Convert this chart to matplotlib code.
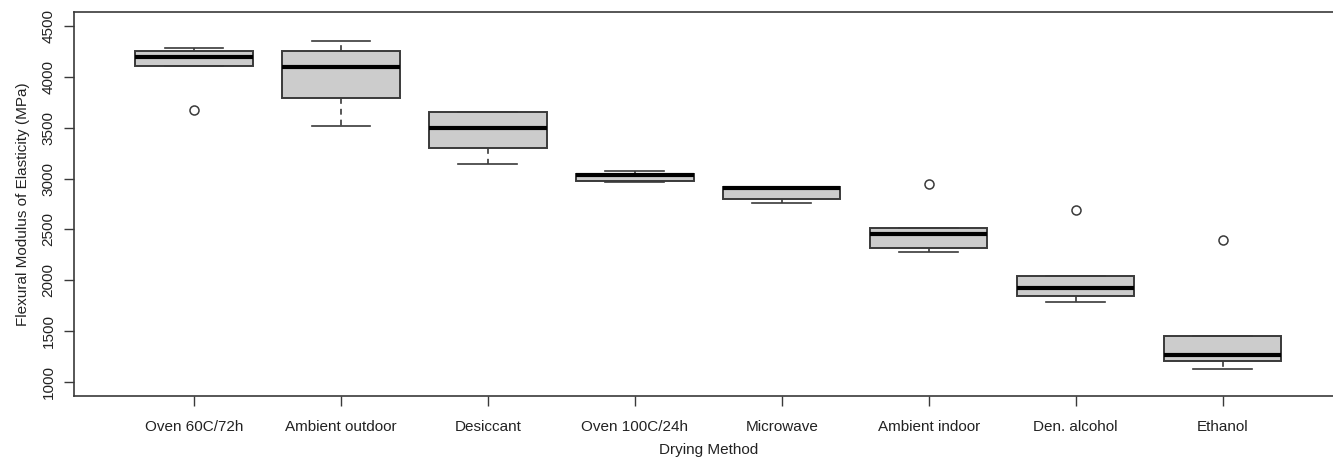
import matplotlib
matplotlib.use("Agg")
import matplotlib.pyplot as plt

plt.rcParams['font.family'] = ['Liberation Sans', 'DejaVu Sans']

categories = ["Oven 60C/72h", "Ambient outdoor", "Desiccant", "Oven 100C/24h",
              "Microwave", "Ambient indoor", "Den. alcohol", "Ethanol"]
whisker_low = [4106, 3514, 3146, 2969, 2758, 2275, 1789, 1121]
q1 = [4106, 3793, 3300, 2979, 2797, 2315, 1848, 1207]
medians = [4197, 4103, 3497, 3031, 2903, 2456, 1927, 1260]
q3 = [4257, 4254, 3652, 3047, 2913, 2512, 2045, 1454]
whisker_high = [4290, 4359, 3652, 3073, 2913, 2512, 2045, 1454]
outliers = [[3672], [], [], [], [], [2942], [2689], [2400]]
yticks = [1000, 1500, 2000, 2500, 3000, 3500, 4000, 4500]

stats = []
for i, name in enumerate(categories):
    stats.append(dict(label=name, whislo=whisker_low[i], q1=q1[i], med=medians[i],
                      q3=q3[i], whishi=whisker_high[i], fliers=outliers[i]))

W, H = 1333, 458
fig = plt.figure(figsize=(W / 100, H / 100), dpi=100)
left, right, top, bottom = 73.5, 1343, 12, 396
ax = fig.add_axes([left / W, 1 - bottom / H, (right - left) / W, (bottom - top) / H])

edge = '#3a3a3a'
ax.bxp(stats, positions=range(1, len(categories) + 1), widths=0.8,
       patch_artist=True, showfliers=True,
       boxprops=dict(facecolor='#cccccc', edgecolor=edge, linewidth=1.4),
       medianprops=dict(color='black', linewidth=3.0, solid_capstyle='butt'),
       whiskerprops=dict(color=edge, linewidth=1.2, linestyle=(0, (3.5, 3))),
       capprops=dict(color=edge, linewidth=1.2),
       capwidths=0.4,
       flierprops=dict(marker='o', markersize=6.5, markerfacecolor='none',
                       markeredgecolor=edge, markeredgewidth=1.1))

ax.set_xlim(0.18, 8.82)
ax.set_ylim(860, 4640)
ax.set_yticks(yticks)
ax.set_yticklabels([str(v) for v in yticks], rotation=90, va='center')
ax.set_xticks(range(1, len(categories) + 1))
ax.set_xticklabels(categories)
for s in ax.spines.values():
    s.set_color(edge)
    s.set_linewidth(1.2)
ax.tick_params(axis='both', colors=edge, labelcolor='#222222', labelsize=11,
               length=7, width=1.0)
ax.tick_params(axis='x', pad=10)
ax.tick_params(axis='y', pad=6)
ax.set_xlabel("Drying Method", fontsize=11, color='#222222', labelpad=7)
ax.set_ylabel("Flexural Modulus of Elasticity (MPa)", fontsize=11, color='#222222', labelpad=8)

fig.savefig("out.png", dpi=100)
